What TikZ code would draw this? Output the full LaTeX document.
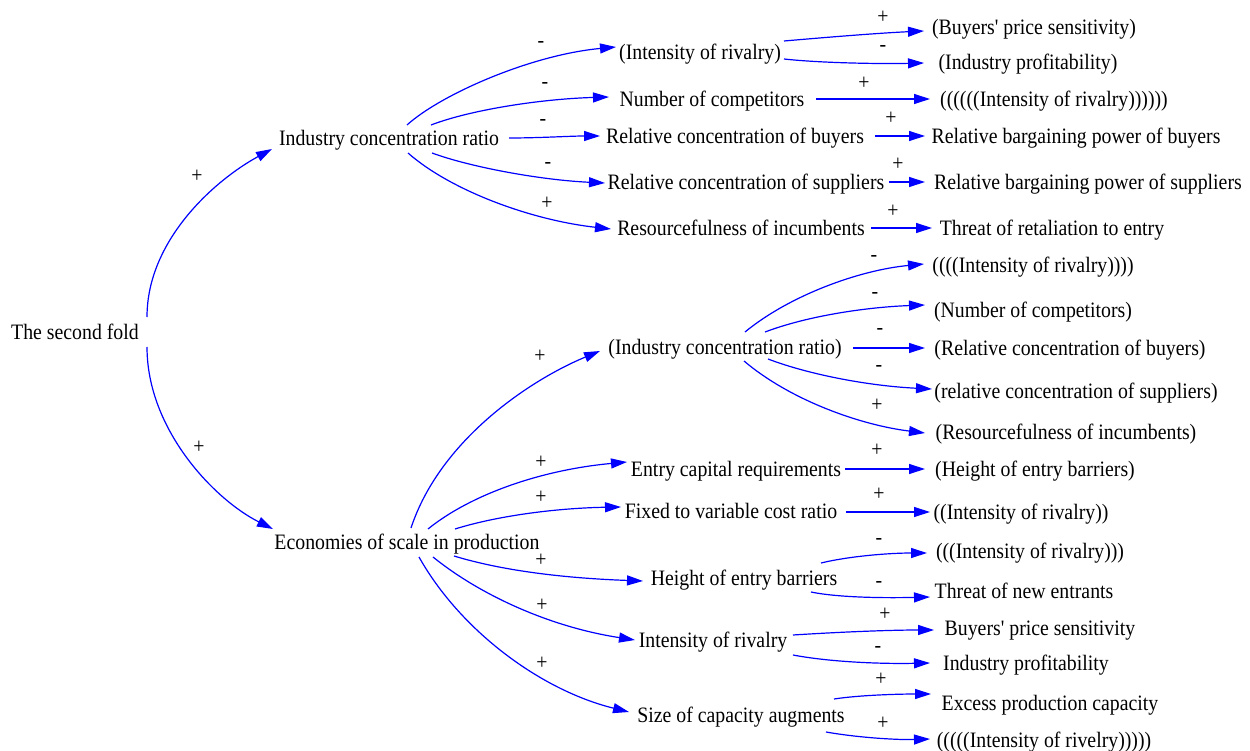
\documentclass[tikz,border=0pt]{standalone}
\usepackage{fontspec}
\newfontfamily\diagfont[FakeStretch=0.9]{Liberation Serif}
\usetikzlibrary{arrows.meta,calc}
\definecolor{linkblue}{RGB}{0,0,255}

\begin{document}
\begin{tikzpicture}[x=1pt,y=-1pt,
  var/.style={inner sep=0pt, font=\diagfont\fontsize{22}{24}\selectfont, text height=16.5pt, text depth=2pt},
  pol/.style={inner sep=0pt, font=\diagfont\fontsize{22}{24}\selectfont},
  lnk/.style={draw=linkblue, line width=1.2pt, -{Triangle[length=16pt,width=10pt]}}]
\useasboundingbox[fill=white] (0,0) rectangle (1250,751);

% variables
\node[var] (sf)   at (75,332)   {The second fold};
\node[var] (icr)  at (389,138)  {Industry concentration ratio};
\node[var] (eos)  at (407,542)  {Economies of scale in production};

\node[var] (ir1)  at (700,52)   {(Intensity of rivalry)};
\node[var] (nc1)  at (712,99)   {Number of competitors};
\node[var] (rcb)  at (735,136)  {Relative concentration of buyers};
\node[var] (rcs)  at (746,182)  {Relative concentration of suppliers};
\node[var] (roi)  at (741,228)  {Resourcefulness of incumbents};

\node[var] (bps1) at (1034,27)  {(Buyers' price sensitivity)};
\node[var] (ip1)  at (1028,62)  {(Industry profitability)};
\node[var] (ir6)  at (1054,99)  {((((((Intensity of rivalry))))))};
\node[var] (rbpb) at (1076,136) {Relative bargaining power of buyers};
\node[var] (rbps) at (1088,182) {Relative bargaining power of suppliers};
\node[var] (tre)  at (1052,228) {Threat of retaliation to entry};

\node[var] (icr2) at (725,347)  {(Industry concentration ratio)};
\node[var] (ecr)  at (736,469)  {Entry capital requirements};
\node[var] (fvc)  at (731,511)  {Fixed to variable cost ratio};
\node[var] (heb)  at (744,578)  {Height of entry barriers};
\node[var] (ir)   at (713,640)  {Intensity of rivalry};
\node[var] (sca)  at (741,715)  {Size of capacity augments};

\node[var] (ir4)  at (1033,265) {((((Intensity of rivalry))))};
\node[var] (nc2)  at (1033,310) {(Number of competitors)};
\node[var] (rcb2) at (1070,348) {(Relative concentration of buyers)};
\node[var] (rcs2) at (1076,391) {(relative concentration of suppliers)};
\node[var] (roi2) at (1066,432) {(Resourcefulness of incumbents)};
\node[var] (heb2) at (1035,469) {(Height of entry barriers)};
\node[var] (ir2)  at (1021,512) {((Intensity of rivalry))};
\node[var] (ir3)  at (1030,551) {(((Intensity of rivalry)))};
\node[var] (tne)  at (1024,591) {Threat of new entrants};
\node[var] (bps)  at (1040,628) {Buyers' price sensitivity};
\node[var] (ip)   at (1026,663) {Industry profitability};
\node[var] (epc)  at (1050,703) {Excess production capacity};
\node[var] (ir5)  at (1044,740) {(((((Intensity of rivelry)))))};

% links from the root
\draw[lnk] ($(sf)+(72,-15)$) .. controls (147,240) and (215,180) .. ($(icr)+(-117,11)$);
\draw[lnk] ($(sf)+(72,15)$)  .. controls (147,430) and (215,500) .. ($(eos)+(-134,-13)$);

% links from the industry concentration ratio
\draw[lnk] ($(icr)+(18,-13)$) .. controls (440,95) and (530,55)   .. ($(ir1)+(-84,-5)$);
\draw[lnk] ($(icr)+(42,-13)$) .. controls (470,110) and (540,99)  .. ($(nc1)+(-103,-2)$);
\draw[lnk] ($(icr)+(120,0)$)  .. controls (540,138) and (570,136) .. ($(rcb)+(-135,0)$);
\draw[lnk] ($(icr)+(43,15)$)  .. controls (470,167) and (540,180) .. ($(rcs)+(-141,1)$);
\draw[lnk] ($(icr)+(19,15)$)  .. controls (450,190) and (530,220) .. ($(roi)+(-130,1)$);

\draw[lnk] ($(ir1)+(84,-11)$) .. controls (830,37) and (880,33) .. ($(bps1)+(-110,4)$);
\draw[lnk] ($(ir1)+(84,7)$)   .. controls (820,63) and (880,64) .. ($(ip1)+(-104,1)$);
\draw[lnk] ($(nc1)+(104,0)$) -- ($(ir6)+(-124,0)$);
\draw[lnk] ($(rcb)+(140,0)$) -- ($(rbpb)+(-151,0)$);
\draw[lnk] ($(rcs)+(143,0)$) -- ($(rbps)+(-163,0)$);
\draw[lnk] ($(roi)+(130,0)$) -- ($(tre)+(-120,0)$);

% links from economies of scale
\draw[lnk] ($(eos)+(4,-14)$)  .. controls (440,440) and (530,380) .. ($(icr2)+(-125,4)$);
\draw[lnk] ($(eos)+(21,-13)$) .. controls (470,495) and (540,470) .. ($(ecr)+(-109,-7)$);
\draw[lnk] ($(eos)+(48,-13)$) .. controls (500,515) and (560,508) .. ($(fvc)+(-110,-4)$);
\draw[lnk] ($(eos)+(47,14)$)  .. controls (500,570) and (560,578) .. ($(heb)+(-101,3)$);
\draw[lnk] ($(eos)+(26,15)$)  .. controls (480,595) and (550,627) .. ($(ir)+(-78,0)$);
\draw[lnk] ($(eos)+(12,15)$)  .. controls (460,630) and (540,690) .. ($(sca)+(-112,-3)$);

\draw[lnk] ($(icr2)+(20,-15)$) .. controls (790,295) and (860,270) .. ($(ir4)+(-109,-1)$);
\draw[lnk] ($(icr2)+(40,-15)$) .. controls (810,315) and (870,307) .. ($(nc2)+(-108,-5)$);
\draw[lnk] ($(icr2)+(128,1)$) -- ($(rcb2)+(-145,0)$);
\draw[lnk] ($(icr2)+(43,12)$)  .. controls (810,375) and (870,386) .. ($(rcs2)+(-144,-2)$);
\draw[lnk] ($(icr2)+(19,14)$)  .. controls (790,400) and (860,425) .. ($(roi2)+(-141,1)$);

\draw[lnk] ($(ecr)+(109,0)$) -- ($(heb2)+(-110,0)$);
\draw[lnk] ($(fvc)+(115,1)$) -- ($(ir2)+(-91,0)$);
\draw[lnk] ($(heb)+(77,-15)$) .. controls (850,556) and (890,553) .. ($(ir3)+(-103,2)$);
\draw[lnk] ($(heb)+(67,14)$)  .. controls (840,598) and (890,598) .. ($(tne)+(-94,6)$);
\draw[lnk] ($(ir)+(80,-5)$)   .. controls (840,632) and (890,630) .. ($(bps)+(-106,2)$);
\draw[lnk] ($(ir)+(80,15)$)   .. controls (830,662) and (880,664) .. ($(ip)+(-96,0)$);
\draw[lnk] ($(sca)+(93,-16)$) .. controls (860,695) and (900,694) .. ($(epc)+(-119,-9)$);
\draw[lnk] ($(sca)+(85,17)$)  .. controls (860,738) and (900,740) .. ($(ir5)+(-114,-1)$);

% link polarities
\node[pol] (p01) at (197,176) {+};
\node[pol] (p02) at (199,447) {+};
\node[pol] (p03) at (541,45)  {-};
\node[pol] (p04) at (545,86)  {-};
\node[pol] (p05) at (543,123) {-};
\node[pol] (p06) at (548,165) {-};
\node[pol] (p07) at (547,203) {+};
\node[pol] (p08) at (883,17)  {+};
\node[pol] (p09) at (883,49)  {-};
\node[pol] (p10) at (864,83)  {+};
\node[pol] (p11) at (891,118) {+};
\node[pol] (p12) at (898,164) {+};
\node[pol] (p13) at (893,211) {+};
\node[pol] (p14) at (540,356) {+};
\node[pol] (p15) at (541,462) {+};
\node[pol] (p16) at (541,497) {+};
\node[pol] (p17) at (541,560) {+};
\node[pol] (p18) at (542,605) {+};
\node[pol] (p19) at (542,663) {+};
\node[pol] (p20) at (874,258) {-};
\node[pol] (p21) at (875,295) {-};
\node[pol] (p22) at (880,331) {-};
\node[pol] (p23) at (879,368) {-};
\node[pol] (p24) at (877,405) {+};
\node[pol] (p25) at (877,450) {+};
\node[pol] (p26) at (879,494) {+};
\node[pol] (p27) at (879,541) {-};
\node[pol] (p28) at (879,584) {-};
\node[pol] (p29) at (885,614) {+};
\node[pol] (p30) at (878,649) {-};
\node[pol] (p31) at (881,679) {+};
\node[pol] (p32) at (883,723) {+};
\end{tikzpicture}
\end{document}
